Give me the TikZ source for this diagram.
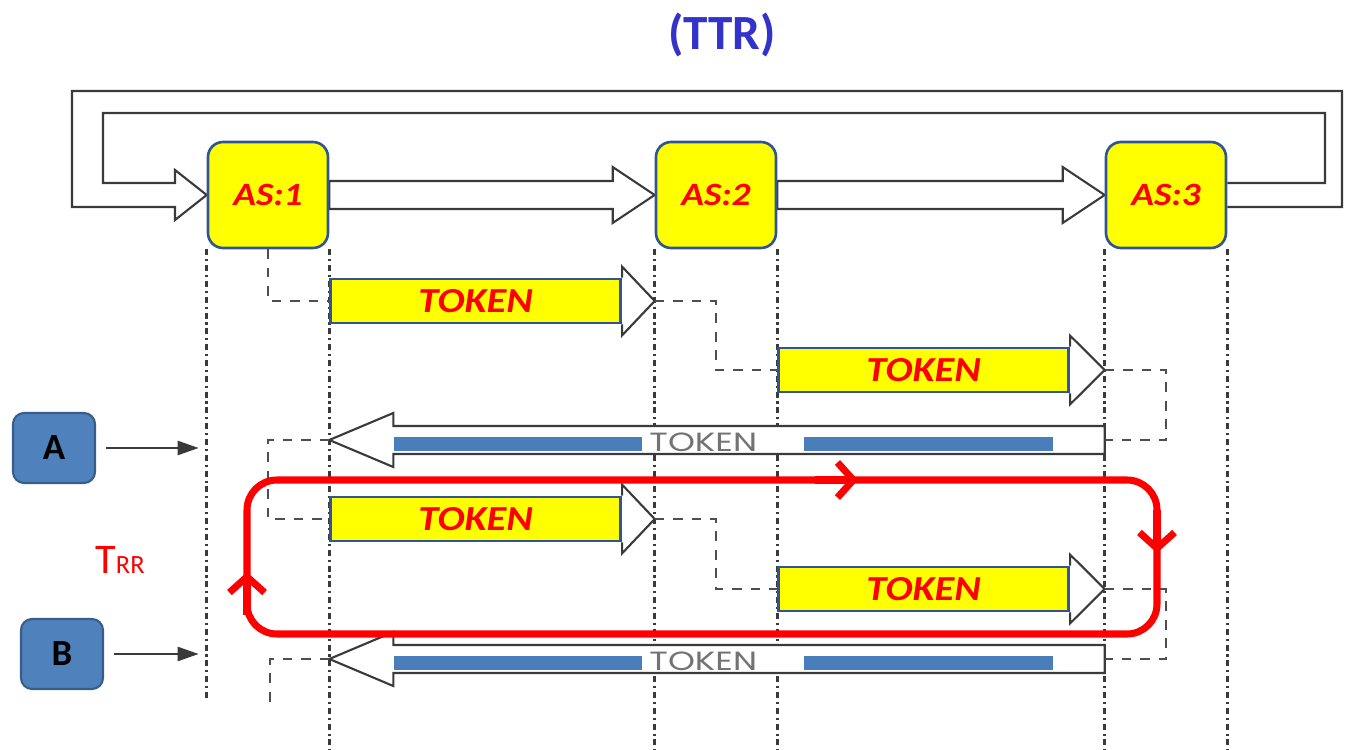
\documentclass[tikz,border=0pt]{standalone}
\usepackage{fontspec}
\setmainfont{Carlito}
\newfontfamily\widefont[FakeStretch=1.15]{Carlito}
\newfontfamily\grayfont{Poppins}
\usetikzlibrary{arrows.meta,positioning,calc,backgrounds}

\definecolor{asyellow}{HTML}{FFFF00}
\definecolor{asblue}{HTML}{2F5597}
\definecolor{tokred}{HTML}{FF0000}
\definecolor{barblue}{HTML}{4A7EBB}
\definecolor{keyfill}{HTML}{4F81BD}
\definecolor{keyline}{HTML}{385D8A}
\definecolor{titleblue}{HTML}{3333CC}
\definecolor{wire}{HTML}{3A3A3A}

% hollow arrow: tail, tip, half shaft, half head, head length (negative = to the left)
\newcommand{\hollowarrow}[5]{%
  \draw[hollow] ($(#1)+(0,-#3)$) -- ($(#2)+({-(#5)},-#3)$) -- ($(#2)+({-(#5)},-#4)$) -- (#2)
    -- ($(#2)+({-(#5)},#4)$) -- ($(#2)+({-(#5)},#3)$) -- ($(#1)+(0,#3)$) -- cycle;}

\begin{document}
\begin{tikzpicture}[x=0.02cm, y=-0.02cm,
        asbox/.style={draw=asblue, line width=1.5pt, fill=asyellow, rounded corners=0.3cm,
            minimum width=2.4cm, minimum height=2.12cm, text=tokred,
            font=\widefont\bfseries\itshape\fontsize{18.5}{18.5}\selectfont},
        token/.style={draw=asblue, line width=1.6pt, fill=asyellow, inner sep=0pt,
            minimum width=5.8cm, minimum height=0.88cm, text=tokred,
            font=\widefont\bfseries\itshape\fontsize{20}{20}\selectfont},
        keybox/.style={draw=keyline, line width=1.2pt, fill=keyfill, rounded corners=0.22cm,
            minimum width=1.64cm, minimum height=1.4cm, font=\bfseries\fontsize{21}{21}\selectfont},
        lifeline/.style={draw=wire, line width=1.6pt, dash pattern=on 3.4pt off 2.2pt on 1.2pt off 2.2pt},
        elbow/.style={draw=wire!90, line width=1.4pt, dash pattern=on 5.5pt off 5pt},
        hollow/.style={draw=wire, line width=1.2pt, fill=white, line join=miter},
        keyarrow/.style={draw=wire, line width=1.4pt, -{Triangle[length=12pt,width=8pt]},
            shorten <=0.2cm, shorten >=0.16cm},
        trr/.style={draw=red, line width=4pt}
    ]
    \useasboundingbox (0,0) rectangle (1350,750);

    \node[font=\bfseries\fontsize{28}{28}\selectfont, text=titleblue] (title) at (722,35) {(TTR)};

    % stations
    \node[asbox] (as1) at (268,195) {AS:1};
    \node[asbox] (as2) at (716,195) {AS:2};
    \node[asbox] (as3) at (1166,195) {AS:3};

    \coordinate (floor) at (0,750);
    \coordinate (floorA) at (0,700);
    \coordinate (row1) at (0,301);
    \coordinate (row2) at (0,370);
    \coordinate (rowA) at (0,440);
    \coordinate (row3) at (0,519);
    \coordinate (row4) at (0,589);
    \coordinate (rowB) at (0,659);
    \coordinate (endB) at (270,710);

    \begin{scope}[on background layer]
        \draw[lifeline] (as1.south west) -- (as1.south west |- floorA);
        \foreach \n in {as1,as2,as3}
            \draw[lifeline] (\n.south east) -- (\n.south east |- floor);
        \foreach \n in {as2,as3}
            \draw[lifeline] (\n.south west) -- (\n.south west |- floor);

        % logical ring
        \hollowarrow{as1.east}{as2.west}{14}{28}{42}
        \hollowarrow{as2.east}{as3.west}{14}{28}{42}
        \draw[hollow, fill=none] ($(as3.east)+(0,12)$) -| (1342,91) -| (72,207) -- (175,207)
            -- (175,220) -- (as1.west) -- (175,170) -- (175,183) -- (103,183)
            |- (1325,113) |- ($(as3.east)+(0,-12)$);
    \end{scope}

    % token frames
    \node[token, anchor=west] (tok1) at (as1.east |- row1) {TOKEN};
    \node[token, anchor=west] (tok2) at (as2.east |- row2) {TOKEN};
    \node[token, anchor=west] (tok3) at (as1.east |- row3) {TOKEN};
    \node[token, anchor=west] (tok4) at (as2.east |- row4) {TOKEN};

    \coordinate (tip1) at (as2.west |- tok1.east);
    \coordinate (tip2) at (as3.west |- tok2.east);
    \coordinate (tip3) at (as2.west |- tok3.east);
    \coordinate (tip4) at (as3.west |- tok4.east);
    \foreach \t/\p in {tok1/tip1, tok2/tip2, tok3/tip3, tok4/tip4}
        \draw[hollow, fill=none] (\t.north east) -- ++(0,-11) -- (\p)
            -- ($(\t.south east)+(0,11)$) -- (\t.south east);

    % token coming back
    \coordinate (rtip1) at (as1.east |- rowA);
    \coordinate (rtail1) at (as3.west |- rowA);
    \coordinate (rtip2) at (as1.east |- rowB);
    \coordinate (rtail2) at (as3.west |- rowB);
    \hollowarrow{rtail1}{rtip1}{14}{27}{-64}
    \hollowarrow{rtail2}{rtip2}{14}{27}{-64}
    \foreach \r in {rtip1,rtip2} {
        \fill[barblue] ($(\r)+(65,-3)$) rectangle ($(\r)+(313,11)$);
        \fill[barblue] ($(\r)+(475,-3)$) rectangle ($(\r)+(724,11)$);
    }
    \node[font=\grayfont\fontsize{15}{15}\selectfont, text=black!55] (back1) at ($(rtip1)+(374,2)$) {\scalebox{1.3}[1]{TOKEN}};
    \node[font=\grayfont\fontsize{15}{15}\selectfont, text=black!55] (back2) at ($(rtip2)+(374,2)$) {\scalebox{1.3}[1]{TOKEN}};

    % hand-over
    \draw[elbow] (as1.south) |- (tok1.west);
    \draw[elbow] (tip1) -| ($(tip1)!.5!(tok2.west)$) |- (tok2.west);
    \draw[elbow] (tip2) -| (as3.south |- rtail1) -- (rtail1);
    \draw[elbow] (rtip1) -| (as1.south |- tok3.west) -- (tok3.west);
    \draw[elbow] (tip3) -| ($(tip3)!.5!(tok4.west)$) |- (tok4.west);
    \draw[elbow] (tip4) -| (as3.south |- rtail2) -- (rtail2);
    \draw[elbow] (rtip2) -| (endB);

    % requests
    \node[keybox] (keyA) at (54,448) {A};
    \node[keybox] (keyB) at (62,654) {B};
    \draw[keyarrow] (keyA) -- (keyA -| as1.west);
    \draw[keyarrow] (keyB) -- (keyB -| as1.west);

    \node[text=red] (trrlbl) at (120,560) {{\fontsize{24}{24}\selectfont T}{\fontsize{15}{15}\selectfont RR}};

    % rotation time
    \coordinate (loopNW) at (247,480);
    \coordinate (loopSE) at (1157,634);
    \draw[trr, rounded corners=0.6cm] (loopNW) rectangle (loopSE);
    \draw[trr, -{Straight Barb[length=9pt,width=20pt]}] (815,480) -- (858,480);
    \draw[trr, -{Straight Barb[length=9pt,width=20pt]}] (1157,510) -- (1157,553);
    \draw[trr, -{Straight Barb[length=9pt,width=20pt]}] (247,615) -- (247,572);
\end{tikzpicture}
\end{document}
